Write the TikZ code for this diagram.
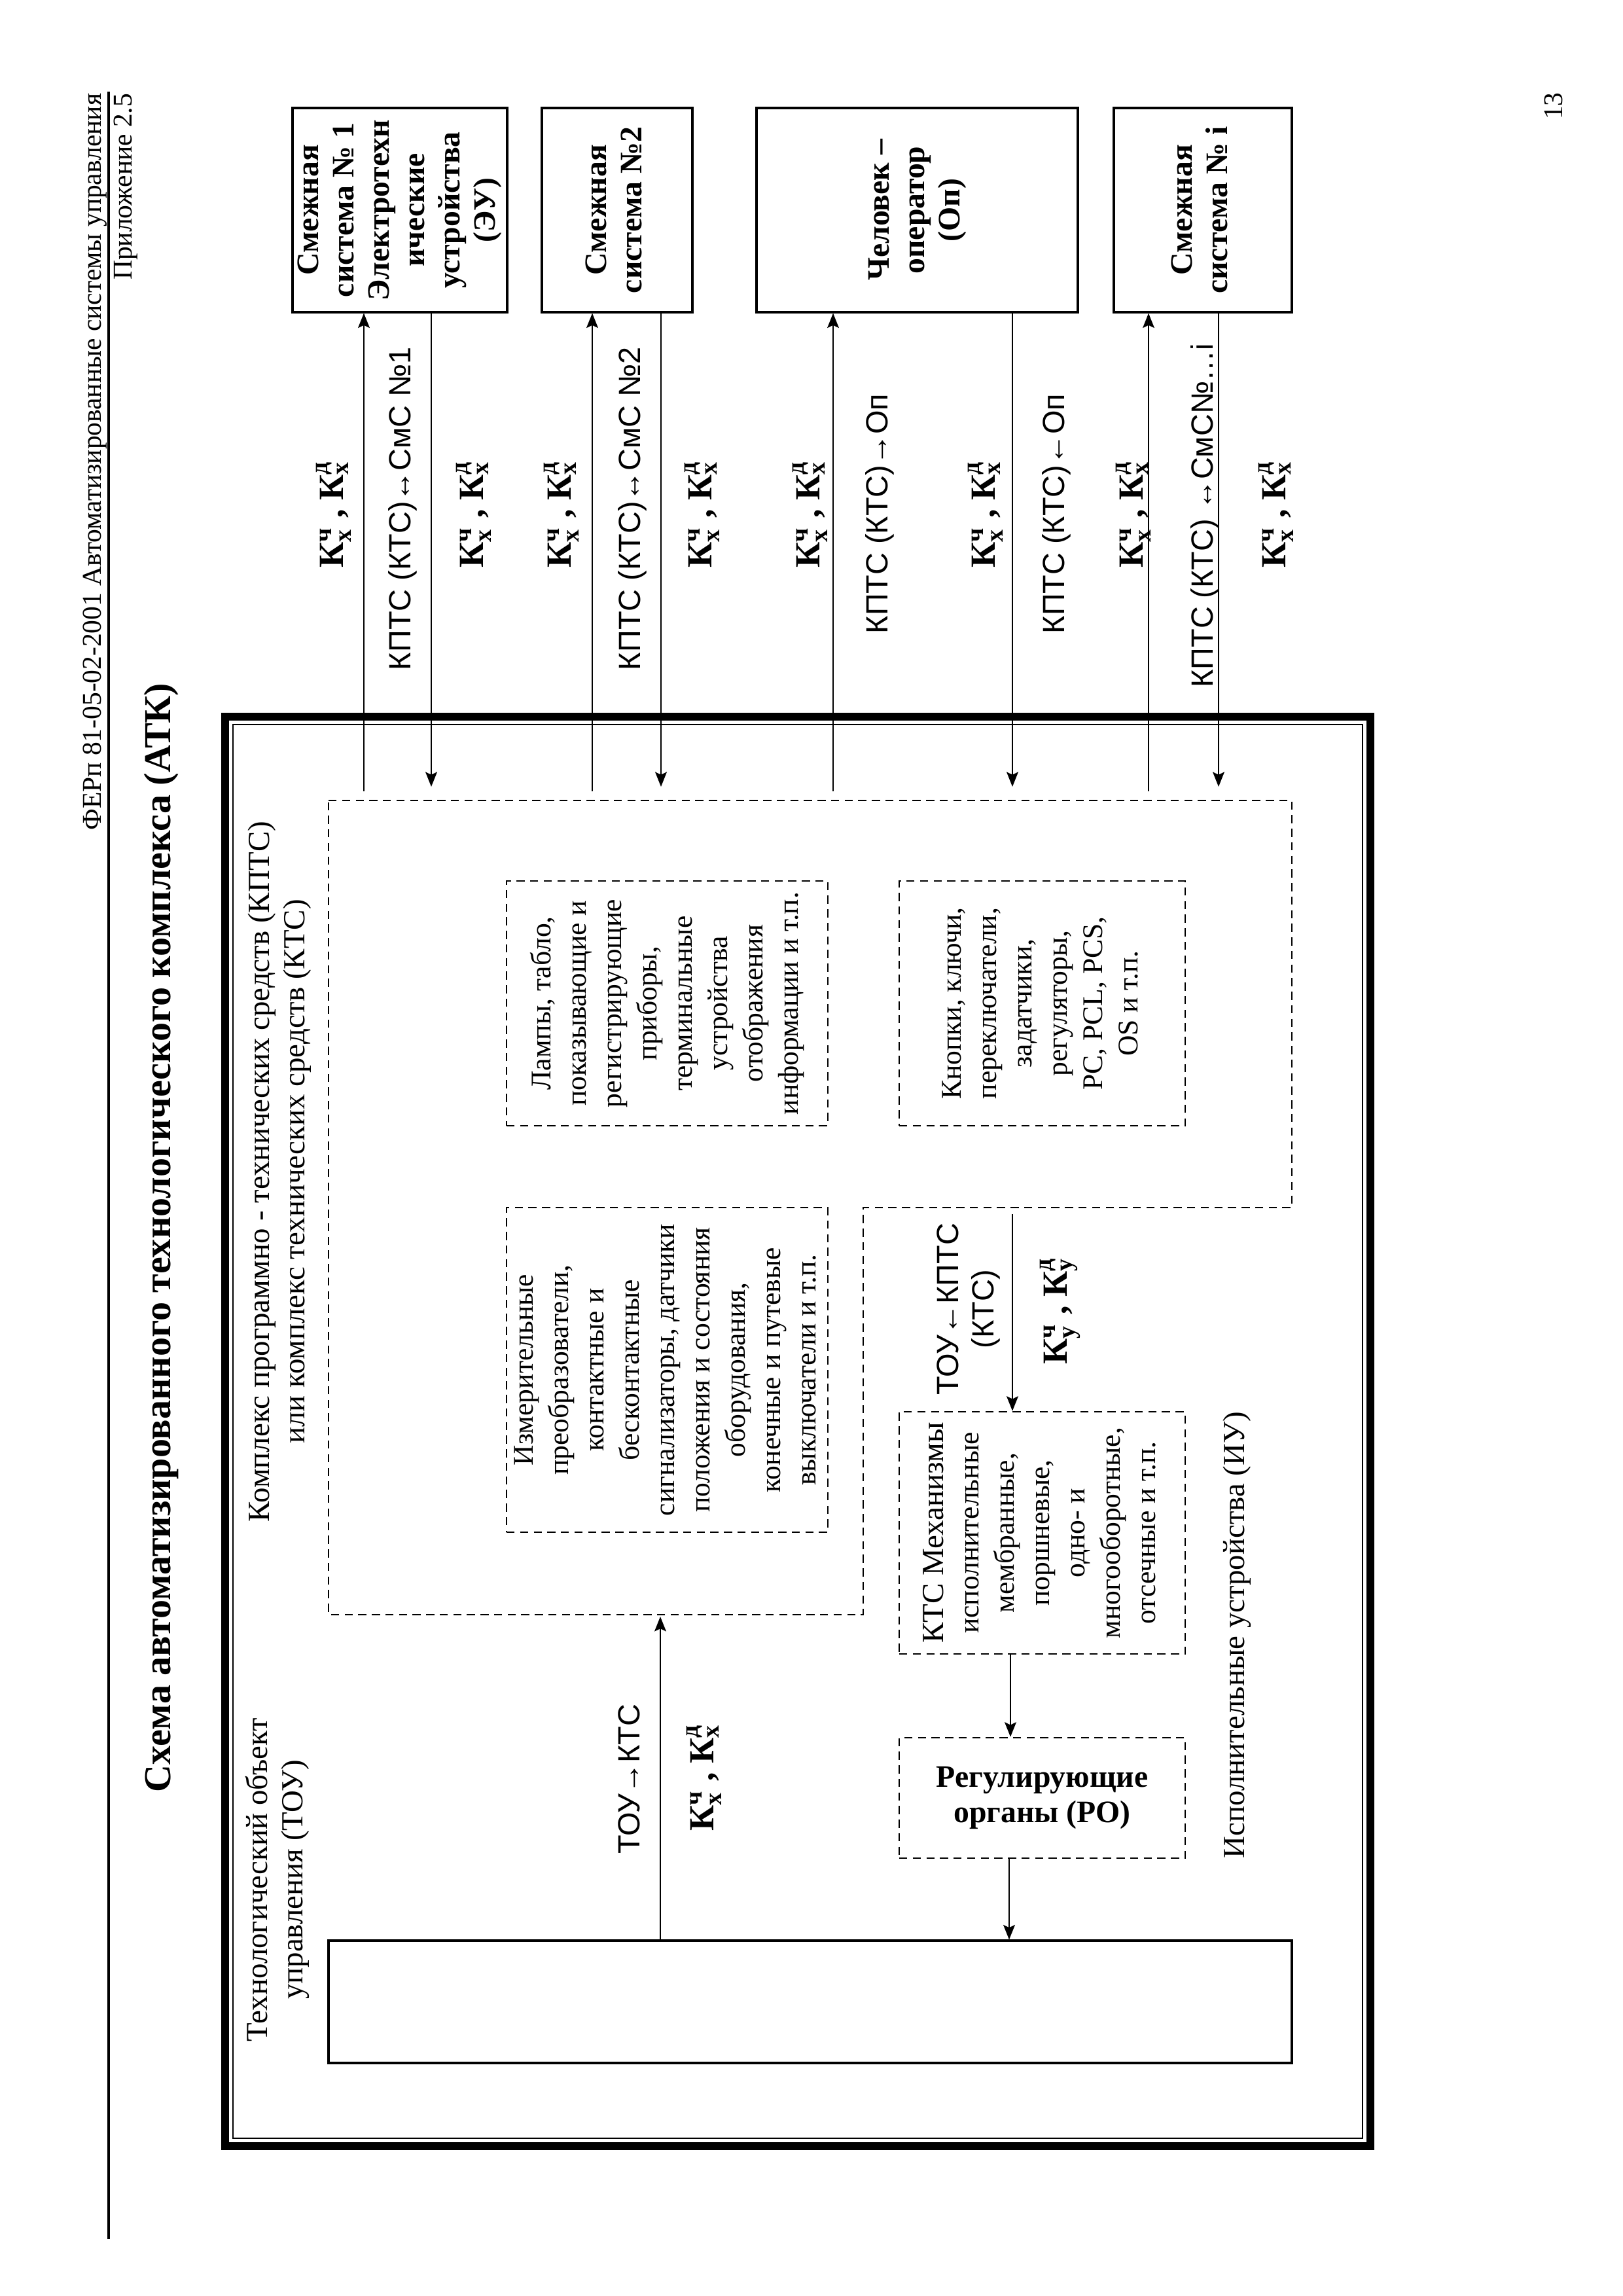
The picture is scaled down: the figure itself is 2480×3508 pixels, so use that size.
\documentclass[tikz,border=0pt]{standalone}
\usepackage{fontspec}
\setmainfont{Liberation Serif}
\setsansfont{Liberation Sans}
\usepackage{amsmath}
\usetikzlibrary{arrows.meta,fit}
\newcommand\fs{\fontsize{11.3}{13}\selectfont}
\newcommand\fsb{\fontsize{11.5}{13}\selectfont}
\newcommand\fsi{\fontsize{10.5}{13}\selectfont}
\newcommand\fsh{\fontsize{10}{12}\selectfont}
\newcommand\fsk{\fontsize{13}{15}\selectfont}
\newcommand\rt[1]{\rotatebox{90}{\begin{tabular}{@{}c@{}}#1\end{tabular}}}
\newcommand\KK[2]{К$^{\text{#1}}_{\text{#2}}$}
\begin{document}
\begin{tikzpicture}[x=0.084677mm,y=-0.084677mm,
  every node/.style={inner sep=0pt, font=\fs},
  sysbox/.style={draw, line width=0.75pt},
  boxtxt/.style={font=\fsb\bfseries},
  dbox/.style={draw, line width=0.6pt, dash pattern=on 3pt off 2pt},
  intxt/.style={font=\fsi},
  toubox/.style={draw, line width=0.75pt},
  arr/.style={line width=0.6pt, -{Stealth[length=1.9mm,width=1.5mm,inset=0.35mm]}},
  klbl/.style={font=\fsk\bfseries},
  slbl/.style={font=\fs\sffamily}]
\useasboundingbox (0,0) rectangle (2480,3508);
% header
\node[anchor=north, font=\fsh] (hdr) at (145,142) {\rotatebox{90}{ФЕРп 81-05-02-2001 Автоматизированные системы управления}};
\draw[line width=0.8pt] (166,140) -- (166,3421);
\node[anchor=north, font=\fsh] (app) at (192,142) {\rotatebox{90}{Приложение 2.5}};
\node[font=\fontsize{14}{16}\selectfont\bfseries] (title) at (247,1891) {\rotatebox{90}{Схема автоматизированного технологического комплекса (АТК)}};
\node[font=\fsh] (pnum) at (2374,162) {\rotatebox{90}{13}};
% outer frame
\draw[line width=1.0mm] (344,1095) rectangle (2094,3279);
\draw[line width=0.7pt] (356,1107) rectangle (2082,3267);
% top boxes
\node[sysbox, fit={(447,165) (775,477)}] (sys1) {};
\node[boxtxt] (sys1t) at (sys1.center) {\rt{Смежная\\система № 1\\Электротехн\\ические\\устройства\\(ЭУ)}};
\node[sysbox, fit={(828,165) (1058,477)}] (sys2) {};
\node[boxtxt] (sys2t) at (sys2.center) {\rt{Смежная\\система №2}};
\node[sysbox, fit={(1156,165) (1647,477)}] (op) {};
\node[boxtxt] (opt) at (op.center) {\rt{Человек –\\оператор\\(Оп)}};
\node[sysbox, fit={(1702,165) (1974,477)}] (sysi) {};
\node[boxtxt] (sysit) at (sysi.center) {\rt{Смежная\\система № i}};
% KPTS L-shaped dashed area
\draw[dbox] (502,1223) -- (1974,1223) -- (1974,1845) -- (1319,1845) -- (1319,2467) -- (502,2467) -- cycle;
\node (kptslbl) at (428,1790) {\rt{Комплекс программно - технических средств (КПТС)\\или комплекс технических средств (КТС)}};
\node[dbox, fit={(774,1346) (1265,1720)}] (lamps) {};
\node[intxt] (lampst) at (lamps.center) {\rt{Лампы, табло,\\показывающие и\\регистрирующие\\приборы,\\терминальные\\устройства\\отображения\\информации и т.п.}};
\node[dbox, fit={(1374,1346) (1811,1720)}] (knobs) {};
\node[intxt] (knobst) at (knobs.center) {\rt{Кнопки, ключи,\\переключатели,\\задатчики,\\регуляторы,\\PC, PCL, PCS,\\OS и т.п.}};
\node[dbox, fit={(774,1845) (1265,2341)}] (meas) {};
\node[intxt] (meast) at (meas.center) {\rt{Измерительные\\преобразователи,\\контактные и\\бесконтактные\\сигнализаторы, датчики\\положения и состояния\\оборудования,\\конечные и путевые\\выключатели и т.п.}};
\node[dbox, fit={(1374,2157) (1811,2527)}] (ktc) {};
\node[intxt] (ktct) at (ktc.center) {\rt{{\fs КТС Механизмы}\\исполнительные\\мембранные,\\поршневые,\\одно- и\\многооборотные,\\отсечные и т.п.}};
\node[dbox, fit={(1374,2655) (1811,2839)}] (ro) {};
\node[boxtxt] (rot) at (ro.center) {\begin{tabular}{@{}c@{}}Регулирующие\\органы (РО)\end{tabular}};
\node[toubox, fit={(502,2965) (1974,3152)}] (tou) {};
\node (toulbl) at (425,2872) {\rt{Технологический объект\\управления (ТОУ)}};
\node (iulbl) at (1890,2498) {\rotatebox{90}{Исполнительные устройства (ИУ)}};
% connector end points on the KPTS area
\coordinate (u1) at (556,1209);
\coordinate (d1) at (659,1202);
\coordinate (u2) at (905,1209);
\coordinate (d2) at (1010,1202);
\coordinate (u3) at (1273,1209);
\coordinate (d3) at (1547,1202);
\coordinate (u4) at (1755,1209);
\coordinate (d4) at (1862,1202);
\coordinate (kb) at (1009,2470);
\coordinate (ks) at (1547,1855);
\coordinate (ka) at (1544,0);
\coordinate (kr) at (1542,0);
% connectors
\draw[arr] (u1) -- (u1 |- sys1.south);
\draw[arr] (d1 |- sys1.south) -- (d1);
\draw[arr] (u2) -- (u2 |- sys2.south);
\draw[arr] (d2 |- sys2.south) -- (d2);
\draw[arr] (u3) -- (u3 |- op.south);
\draw[arr] (d3 |- op.south) -- (d3);
\draw[arr] (u4) -- (u4 |- sysi.south);
\draw[arr] (d4 |- sysi.south) -- (d4);
\draw[arr] (kb |- tou.north) -- (kb);
\draw[arr] (ks) -- (ks |- ktc.north);
\draw[arr] (ka |- ktc.south) -- (ka |- ro.north);
\draw[arr] (kr |- ro.south) -- (kr |- tou.north);
% labels of connectors
\node[klbl] (k1) at (510,786) {\rotatebox{90}{\KK{ч}{х} , \KK{д}{х}}};
\node[slbl] (s1) at (615,777) {\rotatebox{90}{КПТС (КТС)↔СмС №1}};
\node[klbl] (k2) at (724,786) {\rotatebox{90}{\KK{ч}{х} , \KK{д}{х}}};
\node[klbl] (k3) at (858,786) {\rotatebox{90}{\KK{ч}{х} , \KK{д}{х}}};
\node[slbl] (s2) at (966,777) {\rotatebox{90}{КПТС (КТС)↔СмС №2}};
\node[klbl] (k4) at (1073,786) {\rotatebox{90}{\KK{ч}{х} , \KK{д}{х}}};
\node[klbl] (k5) at (1238,786) {\rotatebox{90}{\KK{ч}{х} , \KK{д}{х}}};
\node[slbl] (s3) at (1344,785) {\rotatebox{90}{КПТС (КТС)→Оп}};
\node[klbl] (k6) at (1506,786) {\rotatebox{90}{\KK{ч}{х} , \KK{д}{х}}};
\node[slbl] (s4) at (1614,785) {\rotatebox{90}{КПТС (КТС)←Оп}};
\node[klbl] (k7) at (1732,786) {\rotatebox{90}{\KK{ч}{х} , \KK{д}{х}}};
\node[slbl] (s5) at (1841,788) {\rotatebox{90}{КПТС (КТС) ↔СмС№…i}};
\node[klbl] (k8) at (1950,786) {\rotatebox{90}{\KK{ч}{х} , \KK{д}{х}}};
\node[slbl] (s6) at (1481,2000) {\rt{ТОУ←КПТС\\(КТС)}};
\node[klbl] (k9) at (1620,2003) {\rotatebox{90}{\KK{ч}{у} , \KK{д}{у}}};
\node[slbl] (s7) at (961,2718) {\rotatebox{90}{ТОУ→КТС}};
\node[klbl] (k10) at (1076,2716) {\rotatebox{90}{\KK{ч}{х} , \KK{д}{х}}};
\end{tikzpicture}
\end{document}
